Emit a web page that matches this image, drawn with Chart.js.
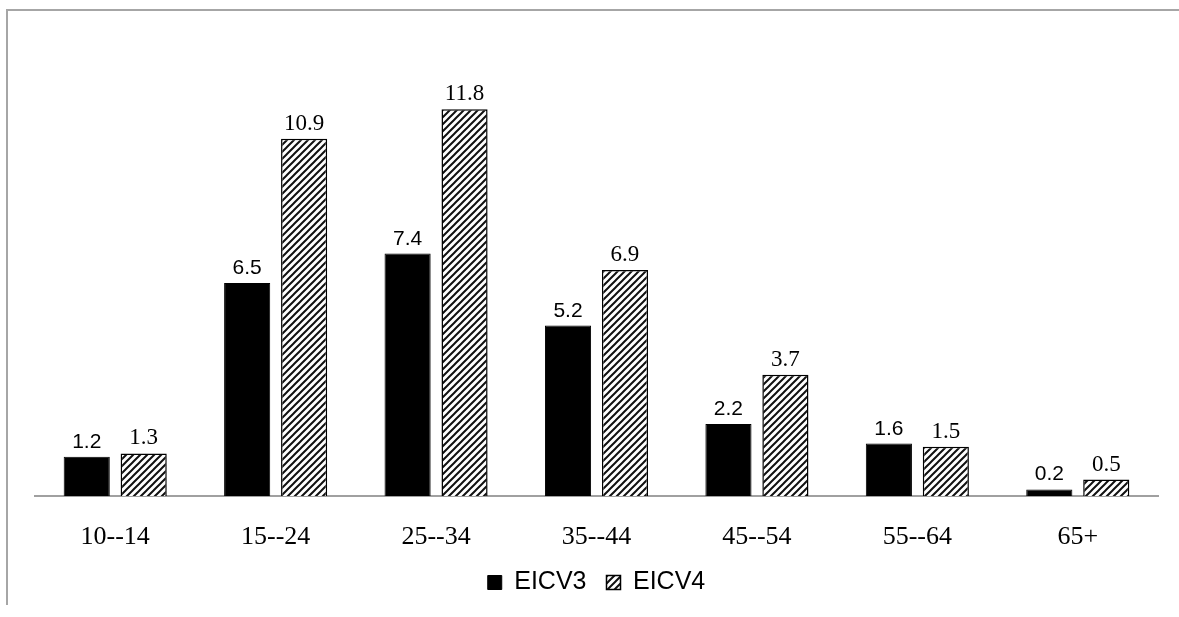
<!DOCTYPE html>
<html>
<head>
<meta charset="utf-8">
<script src="https://cdn.jsdelivr.net/npm/chart.js@4.4.1/dist/chart.umd.min.js"></script>
<style>
    html, body { margin: 0; padding: 0; background: #fff; }
    #wrap { position: relative; width: 1179px; height: 617px; }
    #frame {
        position: absolute; left: 6px; top: 9px; right: -10px; bottom: 12px;
        border-left: 2px solid #a6a6a6; border-top: 2px solid #a6a6a6;
    }
    canvas { position: absolute; left: 0; top: 0; }
</style>
</head>
<body>
<div id="wrap">
    <div id="frame"></div>
    <canvas id="chart" width="1179" height="617"></canvas>
</div>
<script>
const categories = ["10--14", "15--24", "25--34", "35--44", "45--54", "55--64", "65+"];
const eicv3 = [1.2, 6.5, 7.4, 5.2, 2.2, 1.6, 0.2];
const eicv4 = [1.3, 10.9, 11.8, 6.9, 3.7, 1.5, 0.5];
const seriesNames = ["EICV3", "EICV4"];

function makeHatch() {
    const size = 7;
    const c = document.createElement("canvas");
    c.width = size;
    c.height = size;
    const g = c.getContext("2d");
    g.fillStyle = "#fff";
    g.fillRect(0, 0, size, size);
    g.strokeStyle = "#111";
    g.lineWidth = 2;
    g.beginPath();
    g.moveTo(-1, size + 1);
    g.lineTo(size + 1, -1);
    g.moveTo(-1, 1);
    g.lineTo(1, -1);
    g.moveTo(size - 1, size + 1);
    g.lineTo(size + 1, size - 1);
    g.stroke();
    return g.createPattern(c, "repeat");
}

const hatch = makeHatch();

// value labels above each bar
const valueLabels = {
    id: "valueLabels",
    afterDatasetsDraw(chart) {
        const ctx = chart.ctx;
        ctx.save();
        ctx.textAlign = "center";
        ctx.textBaseline = "alphabetic";
        ctx.fillStyle = "#000";
        chart.data.datasets.forEach((ds, i) => {
            const meta = chart.getDatasetMeta(i);
            ctx.font = i === 0 ? "21px 'Liberation Sans'" : "23px 'Liberation Serif'";
            meta.data.forEach((bar, j) => {
                ctx.fillText(ds.data[j].toFixed(1), bar.x, bar.y - 9);
            });
        });
        ctx.restore();
    }
};

const ctx = document.getElementById("chart").getContext("2d");
new Chart(ctx, {
    type: "bar",
    data: {
        labels: categories,
        datasets: [
            {
                label: seriesNames[0],
                data: eicv3,
                backgroundColor: "#000",
                borderColor: "#000",
                borderWidth: 1
            },
            {
                label: seriesNames[1],
                data: eicv4,
                backgroundColor: hatch,
                borderColor: "#000",
                borderWidth: 1.5
            }
        ]
    },
    options: {
        responsive: false,
        animation: false,
        categoryPercentage: 0.71,
        barPercentage: 0.81,
        layout: {
            padding: { left: 35, right: 21, top: 70, bottom: 12 }
        },
        plugins: {
            tooltip: { enabled: false },
            legend: {
                position: "bottom",
                labels: {
                    color: "#000",
                    font: { family: "'Liberation Sans'", size: 25 },
                    boxWidth: 14,
                    boxHeight: 14,
                    padding: 20
                }
            }
        },
        scales: {
            x: {
                grid: { display: false, drawTicks: false },
                border: { color: "#a0a0a0", width: 2 },
                ticks: {
                    color: "#000",
                    padding: 26,
                    font: { family: "'Liberation Serif'", size: 26 }
                },
                afterFit(scale) {
                    scale.height = 54;
                }
            },
            y: {
                display: false,
                min: 0,
                max: 13
            }
        }
    },
    plugins: [valueLabels]
});
</script>
</body>
</html>
